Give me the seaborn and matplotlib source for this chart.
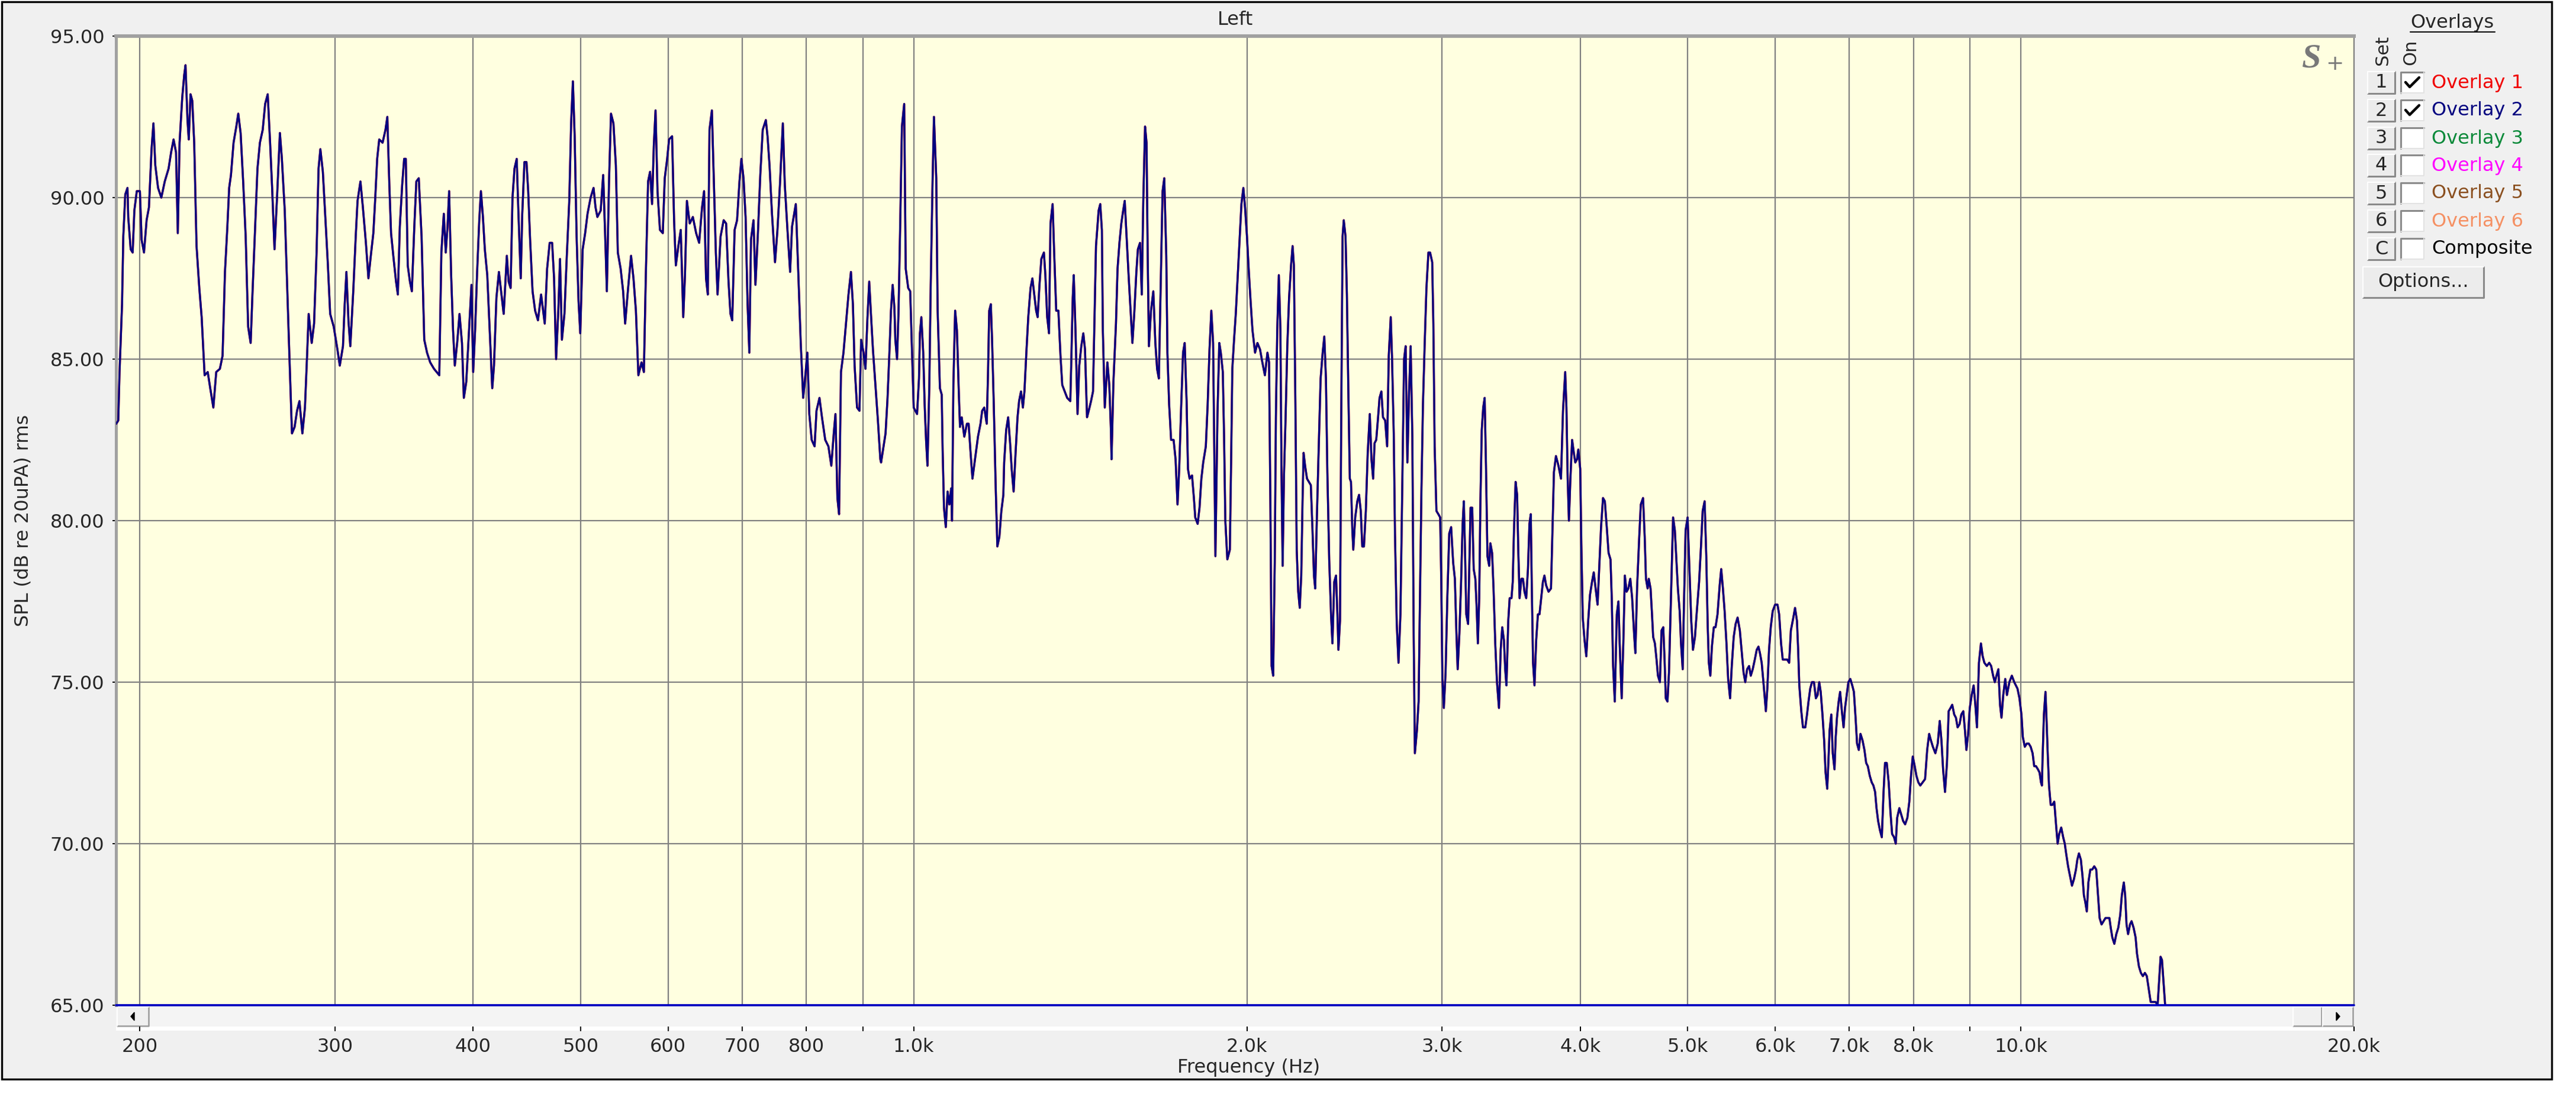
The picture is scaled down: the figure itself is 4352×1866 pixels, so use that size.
import matplotlib
matplotlib.use("Agg")
import matplotlib.pyplot as plt
import matplotlib.ticker as ticker
from matplotlib.lines import Line2D
from matplotlib.patches import Rectangle, Polygon
import pandas as pd
import seaborn as sns

# trace: frequency (Hz) and SPL (dB re 20uPa)
# 190 Hz - 930 Hz
freq_low = [
    190.4, 191.2, 191.7, 192.7, 193.2, 194.0, 194.9, 195.2, 196.2, 197.0,
    197.7, 198.7, 200.0, 200.7, 201.7, 202.8, 203.8, 204.9, 205.7, 206.5,
    207.7, 209.1, 210.6, 212.3, 213.4, 214.5, 215.6, 216.4, 217.2, 218.4,
    219.3, 219.9, 220.8, 221.4, 222.2, 223.0, 223.9, 225.0, 226.3, 227.4,
    228.8, 230.3, 231.5, 233.0, 234.4, 236.2, 237.5, 238.7, 239.9, 240.8,
    241.7, 243.0, 244.4, 245.4, 246.6, 247.9, 249.2, 250.5, 251.8, 252.8,
    254.1, 255.4, 256.7, 258.2, 259.5, 260.9, 262.2, 263.3, 264.6, 266.0,
    267.6, 268.7, 270.3, 271.7, 273.0, 274.4, 275.9, 277.3, 278.7, 280.4,
    281.9, 283.3, 284.1, 285.9, 287.3, 288.8, 290.0, 291.1, 292.6, 294.1,
    295.6, 297.1, 299.3, 301.6, 303.1, 305.1, 306.2, 307.3, 308.6, 309.8,
    311.7, 313.3, 314.5, 316.4, 318.0, 320.0, 321.7, 323.3, 325.0, 326.3,
    327.6, 329.0, 331.3, 333.3, 334.6, 336.0, 337.2, 339.0, 340.7, 342.0,
    343.4, 345.1, 346.5, 347.7, 349.1, 350.7, 352.1, 353.9, 355.4, 357.2,
    359.3, 361.3, 363.4, 365.8, 368.7, 372.8, 374.4, 376.3, 377.8, 379.2,
    380.5, 382.1, 383.6, 385.0, 386.9, 388.8, 390.8, 392.3, 394.3, 396.3,
    398.6, 400.0, 401.6, 403.3, 405.1, 406.5, 408.2, 409.8, 411.9, 414.0,
    416.2, 417.7, 419.8, 422.0,
    426.2, 429.0, 430.6, 432.4, 434.1, 435.9, 437.9, 439.4, 441.6, 443.0,
    445.0, 446.9, 448.5, 450.3, 452.6, 455.0, 457.7, 460.7, 464.2, 466.5,
    469.0, 471.4, 473.3, 475.3, 477.5, 479.2, 481.1, 483.6, 486.0, 488.5,
    490.4, 492.2, 494.0, 496.0, 498.0, 499.8, 502.3, 504.9, 507.4, 510.7,
    513.8, 515.9, 517.9, 521.5, 524.2, 526.6, 528.2, 530.6, 532.8, 535.5,
    538.2, 540.4, 543.6, 546.4, 548.7, 552.1, 555.5, 558.3, 561.1, 564.0,
    567.7, 570.5, 572.8, 575.5, 577.9, 580.3, 582.4, 584.5, 586.9, 589.9,
    593.4, 595.8, 598.8, 601.2, 605.0, 607.5, 609.7, 612.9, 616.0, 619.2,
    621.4, 623.9, 627.6, 631.7, 636.0, 640.0, 643.9, 646.6, 649.2, 651.6,
    653.9, 657.2, 660.0, 662.6, 665.0, 669.2, 673.5, 676.9, 680.3, 683.1,
    685.6, 689.0, 692.5, 696.0, 698.8, 701.9, 704.9, 707.8, 710.4, 712.9,
    716.6, 719.5, 723.2, 726.8, 730.5, 735.2, 737.8, 740.9, 744.7, 749.4,
    753.2, 757.1, 761.7, 764.8, 768.7, 773.3, 776.4, 782.5, 786.5, 790.6,
    794.6, 798.7, 801.5, 804.8, 808.8, 813.7, 816.9, 822.0, 826.3, 831.9,
    837.4, 842.5, 846.8, 849.8, 853.2, 856.2, 859.6, 864.1, 868.6, 873.1,
    877.6, 881.2, 884.3, 888.8, 893.3, 896.4, 900.9, 904.5, 908.3, 911.6,
    914.9, 918.7, 923.4, 928.2, 932.9,
]
spl_low = [
    83.0, 83.1, 84.6, 86.7, 88.8, 90.1, 90.3, 89.4, 88.4, 88.3,
    89.6, 90.2, 90.2, 88.7, 88.3, 89.3, 89.7, 91.5, 92.3, 91.0,
    90.3, 90.0, 90.5, 90.9, 91.4, 91.8, 91.4, 88.9, 91.7, 93.1,
    93.8, 94.1, 92.4, 91.8, 93.2, 93.0, 91.7, 88.5, 87.2, 86.3,
    84.5, 84.6, 84.1, 83.5, 84.6, 84.7, 85.1, 87.7, 89.1, 90.3,
    90.7, 91.7, 92.2, 92.6, 92.0, 90.5, 88.8, 86.0, 85.5, 87.1,
    89.0, 90.9, 91.7, 92.1, 92.9, 93.2, 91.7, 90.3, 88.4, 90.0,
    92.0, 91.2, 89.6, 87.2, 85.0, 82.7, 82.9, 83.4, 83.7, 82.7,
    83.5, 85.3, 86.4, 85.5, 86.1, 88.3, 90.9, 91.5, 90.8, 89.4,
    88.0, 86.4, 86.0, 85.3, 84.8, 85.4, 86.7, 87.7, 86.2, 85.4,
    87.1, 88.8, 89.9, 90.5, 89.7, 88.6, 87.5, 88.2, 88.9, 90.0,
    91.2, 91.8, 91.7, 92.1, 92.5, 90.4, 88.9, 88.1, 87.4, 87.0,
    89.1, 90.4, 91.2, 91.2, 87.9, 87.4, 87.1, 89.1, 90.5, 90.6,
    88.8, 85.6, 85.2, 84.9, 84.7, 84.5, 88.3, 89.5, 88.3, 89.1,
    90.2, 87.6, 85.9, 84.8, 85.5, 86.4, 85.5, 83.8, 84.3, 85.7,
    87.3, 84.6, 85.9, 87.7, 89.3, 90.2, 89.4, 88.4, 87.6, 85.9,
    84.1, 84.8, 86.9, 87.7,
    86.4, 88.2, 87.4, 87.2, 90.0, 90.9, 91.2, 89.6, 87.5, 89.5,
    91.1, 91.1, 90.2, 88.7, 87.1, 86.5, 86.2, 87.0, 86.1, 87.8,
    88.6, 88.6, 87.5, 85.0, 86.5, 88.1, 85.6, 86.4, 88.2, 89.9,
    92.3, 93.6, 91.9, 88.8, 86.8, 85.8, 88.4, 88.9, 89.5, 90.0,
    90.3, 89.7, 89.4, 89.6, 90.7, 88.6, 87.1, 90.5, 92.6, 92.3,
    91.0, 88.3, 87.8, 87.1, 86.1, 87.2, 88.2, 87.5, 86.5, 84.5,
    84.9, 84.6, 87.6, 90.5, 90.8, 89.8, 91.6, 92.7, 90.2, 89.0,
    88.9, 90.6, 91.2, 91.8, 91.9, 89.3, 87.9, 88.5, 89.0, 86.3,
    87.6, 89.9, 89.2, 89.4, 88.9, 88.6, 89.7, 90.2, 87.5, 87.0,
    92.1, 92.7, 90.4, 88.3, 87.0, 88.8, 89.3, 89.2, 87.4, 86.4,
    86.2, 89.0, 89.3, 90.5, 91.2, 90.6, 89.4, 86.7, 85.2, 88.7,
    89.3, 87.3, 88.9, 90.7, 92.1, 92.4, 91.9, 91.0, 89.5, 88.0,
    89.0, 90.4, 92.3, 90.4, 89.1, 87.7, 89.1, 89.8, 87.7, 85.5,
    83.8, 84.6, 85.2, 83.3, 82.5, 82.3, 83.4, 83.8, 83.2, 82.5,
    82.3, 81.7, 82.7, 83.3, 80.7, 80.2, 84.6, 85.2, 86.1, 87.0,
    87.7, 86.7, 84.8, 83.5, 83.4, 85.6, 85.2, 84.7, 86.3, 87.4,
    86.4, 85.3, 84.2, 83.1, 81.9,
]

# 930 Hz - 4.5 kHz
freq_mid = [
    934.4, 938.3, 943.1, 947.0, 950.4, 953.8, 957.2, 960.6, 962.5, 965.9,
    968.8, 972.2, 975.8, 980.4, 983.5, 988.6, 992.7, 996.8, 1000, 1007,
    1011, 1013, 1016, 1020, 1023, 1026, 1029, 1033, 1036, 1040,
    1043, 1048, 1051, 1056, 1060, 1062, 1065, 1069, 1073, 1077,
    1081, 1083, 1086, 1090, 1094, 1098, 1101, 1105, 1111, 1117,
    1121, 1125, 1130, 1134, 1139, 1143, 1149, 1153, 1158, 1164,
    1167, 1170, 1174, 1177, 1181, 1186, 1190, 1195, 1200, 1205,
    1207, 1212, 1217, 1222, 1226, 1231, 1236, 1241, 1245, 1250,
    1255, 1259, 1264, 1269, 1275, 1280, 1286, 1290, 1294, 1299,
    1304, 1311, 1315, 1320, 1325, 1329, 1335, 1339, 1345, 1351,
    1357, 1362, 1369, 1376, 1385, 1388, 1392, 1395, 1400, 1406,
    1411, 1417, 1423, 1428, 1434, 1439, 1446, 1452, 1456, 1461,
    1469, 1474, 1479, 1482, 1488, 1496, 1502, 1507, 1509, 1515,
    1523, 1528, 1534, 1540, 1546, 1551, 1558, 1564, 1570, 1576,
    1582, 1589, 1594, 1601, 1607, 1612, 1618, 1623, 1627, 1631,
    1638, 1646, 1653, 1659, 1665, 1671, 1678, 1684, 1691, 1695,
    1701, 1708, 1717, 1724, 1731, 1737, 1744, 1751, 1757, 1764,
    1769, 1775, 1784, 1791, 1796, 1805, 1812, 1819, 1826, 1836,
    1843, 1850, 1857, 1864, 1869, 1873, 1881, 1888, 1894, 1902,
    1907, 1912, 1920, 1930, 1935, 1940, 1947, 1954, 1962, 1970,
    1977, 1985, 1992, 2000, 2007, 2015, 2023, 2034,
    2044, 2055, 2065, 2076, 2087, 2094, 2100, 2105, 2112, 2119,
    2124, 2130, 2137, 2144, 2149, 2154, 2160, 2167, 2175, 2183,
    2192, 2199, 2205, 2212, 2218, 2225, 2232, 2239, 2245, 2250,
    2257, 2266, 2275, 2284, 2292, 2299, 2305, 2313, 2322, 2331,
    2341, 2349, 2357, 2364, 2373, 2382, 2389, 2398, 2407, 2414,
    2419, 2427, 2433, 2440, 2446, 2455, 2462, 2470, 2477, 2483,
    2490, 2495, 2505, 2516, 2525, 2534, 2542, 2551, 2561, 2571,
    2582, 2591, 2600, 2608, 2617, 2627, 2635, 2645, 2654, 2666,
    2677, 2686, 2697, 2704, 2714, 2721, 2731, 2741, 2752, 2763,
    2773, 2782, 2792, 2802, 2811, 2821, 2829, 2836, 2848, 2858,
    2865, 2875, 2884, 2894, 2905, 2917, 2927, 2940, 2947, 2955,
    2966, 2978, 2989, 2996, 3003, 3012, 3023, 3034, 3046, 3058,
    3071, 3082, 3092, 3100, 3111, 3122, 3132, 3140, 3148, 3156,
    3168, 3176, 3184, 3195, 3205, 3216, 3224, 3233, 3242, 3250,
    3259, 3269, 3279, 3288, 3298, 3310, 3318, 3330, 3340, 3352,
    3364, 3378, 3390, 3401, 3413, 3422, 3431, 3444, 3454, 3467,
    3476, 3485, 3497, 3508, 3517, 3526, 3539, 3551, 3562, 3575,
    3588, 3599, 3609, 3616, 3626, 3637, 3650, 3663, 3675, 3688,
    3701, 3713, 3726, 3745, 3764, 3774, 3787, 3803, 3823, 3843,
    3859, 3877, 3887, 3897, 3907, 3919, 3933, 3947, 3959, 3973,
    3984, 4000, 4009, 4021, 4036, 4051, 4067, 4082, 4099, 4114,
    4130, 4147, 4162, 4177, 4194, 4210, 4227, 4243, 4260, 4271,
    4283, 4298, 4316, 4331, 4342, 4360, 4375, 4389, 4405, 4421,
    4439, 4456, 4474, 4486, 4502, 4521, 4537,
]
spl_mid = [
    81.8, 82.2, 82.7, 83.8, 85.1, 86.5, 87.3, 86.6, 85.6, 85.0,
    86.4, 89.1, 92.2, 92.9, 87.8, 87.2, 87.1, 85.1, 83.5, 83.3,
    84.4, 85.8, 86.3, 85.2, 83.6, 82.5, 81.7, 84.2, 87.3, 90.5,
    92.5, 90.6, 86.5, 84.1, 83.9, 82.2, 80.4, 79.8, 80.9, 80.5,
    81.0, 80.0, 84.2, 86.5, 85.9, 84.1, 82.9, 83.2, 82.6, 83.0,
    83.0, 82.2, 81.3, 81.7, 82.2, 82.6, 83.0, 83.4, 83.5, 83.0,
    84.5, 86.5, 86.7, 85.6, 83.7, 81.0, 79.2, 79.5, 80.3, 80.8,
    81.8, 82.8, 83.2, 82.4, 81.6, 80.9, 82.1, 83.2, 83.7, 84.0,
    83.5, 84.0, 85.2, 86.3, 87.2, 87.5, 86.9, 86.5, 86.3, 87.3,
    88.1, 88.3, 87.6, 86.3, 85.8, 89.2, 89.8, 88.4, 86.5, 86.5,
    85.1, 84.2, 84.0, 83.8, 83.7, 85.0, 86.9, 87.6, 85.9, 83.3,
    84.8, 85.4, 85.8, 85.3, 83.2, 83.4, 83.7, 84.0, 86.0, 88.5,
    89.6, 89.8, 89.0, 85.9, 83.5, 84.9, 84.2, 82.8, 81.9, 84.3,
    86.1, 87.8, 88.6, 89.2, 89.6, 89.9, 88.6, 87.5, 86.5, 85.5,
    86.4, 87.7, 88.4, 88.6, 87.0, 89.9, 92.2, 91.7, 88.1, 85.4,
    86.5, 87.1, 85.5, 84.7, 84.4, 87.1, 90.2, 90.6, 88.2, 85.2,
    83.6, 82.5, 82.5, 81.9, 80.5, 81.6, 83.5, 85.2, 85.5, 83.7,
    81.6, 81.3, 81.4, 80.7, 80.1, 79.9, 80.4, 81.3, 81.8, 82.3,
    83.6, 85.3, 86.5, 85.5, 81.8, 78.9, 83.3, 85.5, 85.2, 84.6,
    82.6, 80.0, 78.8, 79.1, 81.8, 84.7, 85.6, 86.4, 87.6, 88.8,
    89.8, 90.3, 89.7, 88.8, 87.8, 86.8, 85.9, 85.2,
    85.5, 85.3, 84.9, 84.5, 85.2, 84.9, 80.3, 75.5, 75.2, 78.7,
    83.2, 85.9, 87.6, 85.9, 81.4, 78.6, 81.4, 83.1, 85.4, 86.9,
    87.9, 88.5, 87.9, 83.6, 79.1, 77.8, 77.3, 78.3, 80.6, 82.1,
    81.7, 81.3, 81.2, 81.1, 79.7, 78.3, 77.9, 80.1, 82.3, 84.4,
    85.2, 85.7, 84.4, 81.5, 78.8, 77.1, 76.2, 78.1, 78.3, 77.1,
    76.0, 76.9, 83.1, 88.8, 89.3, 88.8, 87.0, 83.8, 81.3, 81.2,
    79.7, 79.1, 80.1, 80.6, 80.8, 80.3, 79.2, 79.2, 80.3, 82.1,
    83.3, 81.9, 81.3, 82.4, 82.5, 83.2, 83.8, 84.0, 83.2, 83.1,
    82.3, 85.1, 86.3, 85.1, 82.7, 79.6, 76.8, 75.6, 77.1, 81.2,
    85.0, 85.4, 81.8, 84.0, 85.4, 82.6, 76.4, 72.8, 73.5, 74.4,
    77.2, 81.0, 83.6, 85.4, 87.2, 88.3, 88.3, 88.0, 86.1, 82.3,
    80.3, 80.2, 80.1, 78.1, 75.1, 74.2, 75.3, 77.6, 79.6, 79.8,
    78.7, 78.2, 76.5, 75.4, 76.5, 78.1, 79.9, 80.6, 79.0, 77.1,
    76.8, 78.6, 80.4, 80.4, 78.5, 78.2, 77.4, 76.2, 77.6, 80.6,
    82.8, 83.5, 83.8, 81.7, 78.9, 78.6, 79.3, 79.0, 77.9, 76.2,
    75.0, 74.2, 76.0, 76.7, 76.3, 75.4, 74.9, 76.9, 77.6, 77.6,
    78.1, 79.7, 81.2, 80.8, 79.0, 77.6, 78.2, 78.2, 77.8, 77.6,
    78.5, 79.9, 80.2, 78.1, 75.6, 74.9, 76.3, 77.1, 77.1, 77.6,
    78.1, 78.3, 78.0, 77.8, 77.9, 79.5, 81.5, 82.0, 81.7, 81.3,
    83.4, 84.6, 83.5, 81.3, 80.0, 81.3, 82.5, 82.1, 81.8, 81.9,
    82.2, 81.6, 79.3, 77.0, 76.3, 75.8, 76.9, 77.7, 78.1, 78.4,
    77.9, 77.4, 78.6, 79.8, 80.7, 80.6, 79.8, 79.0, 78.8, 77.6,
    75.5, 74.4, 77.1, 77.5, 76.2, 74.5, 76.2, 78.3, 77.8, 77.9,
    78.2, 77.6, 76.5, 75.9, 77.9, 79.4, 80.5,
]

# 4.5 kHz - 13.5 kHz (the trace leaves the bottom of the window after that)
freq_high = [
    4558, 4574, 4586, 4602, 4613, 4630, 4644, 4655, 4672, 4688,
    4702, 4721, 4737, 4754, 4767, 4779, 4796, 4811, 4823, 4840,
    4852, 4870, 4884, 4901, 4919, 4933, 4950, 4963, 4980, 5001,
    5021, 5039, 5057, 5078, 5098, 5122, 5142, 5160, 5181, 5199,
    5215, 5227, 5243, 5260, 5281, 5300, 5322, 5346, 5363, 5382,
    5401, 5422, 5441, 5463, 5482, 5504, 5526, 5549, 5575, 5595,
    5618, 5638, 5660, 5683, 5703, 5726, 5751, 5774, 5795, 5813,
    5834, 5855, 5885, 5903, 5924, 5945, 5969, 5999, 6029, 6050,
    6074, 6095, 6126, 6152, 6177, 6199, 6231, 6253, 6278, 6294,
    6309, 6335, 6357, 6388, 6411, 6431, 6454, 6477, 6504, 6530,
    6553, 6576, 6596, 6620, 6643, 6663, 6686, 6702, 6719, 6743,
    6763, 6788, 6805, 6823, 6847, 6868, 6893, 6917, 6938, 6962,
    6987, 7015, 7043, 7067, 7092, 7114, 7140, 7165, 7195, 7224,
    7250, 7275, 7305, 7334, 7360, 7386, 7408, 7433, 7463, 7490,
    7517, 7540, 7567, 7598, 7625, 7652, 7683, 7710, 7733, 7768,
    7799, 7830, 7862, 7899, 7931, 7959, 7988, 8020, 8049, 8081,
    8114, 8154, 8195, 8231, 8265, 8295, 8329, 8372, 8414, 8449,
    8479, 8508, 8542, 8577, 8607, 8641, 8671, 8707, 8738, 8769,
    8805, 8837, 8873, 8904, 8931, 8963, 8994, 9030, 9066, 9098,
    9129, 9167, 9205, 9238, 9271, 9318, 9365, 9403, 9441, 9474,
    9507, 9545, 9578, 9607, 9642, 9682, 9716, 9766, 9816, 9865,
    9932, 9973, 10014, 10043, 10084, 10126, 10167, 10208, 10249, 10283,
    10321, 10364, 10399, 10429, 10450, 10463, 10493, 10527, 10549, 10579,
    10605, 10643, 10678, 10721, 10766, 10797, 10833, 10878, 10922, 10958,
    10989, 11034, 11079, 11124, 11169, 11216, 11248, 11286, 11332, 11370,
    11403, 11435, 11472, 11510, 11557, 11603, 11651, 11699, 11748, 11782,
    11830, 11879, 11927, 11976, 12024, 12058, 12097, 12148, 12198, 12249,
    12299, 12339, 12390, 12425, 12460, 12501, 12551, 12592, 12644, 12697,
    12734, 12786, 12839, 12892, 12945, 12997, 13050, 13103, 13156, 13238,
    13293, 13337, 13375, 13414, 13458, 13502, 13545,
]
spl_high = [
    80.7, 79.5, 78.2, 77.9, 78.2, 77.9, 77.1, 76.4, 76.2, 75.7,
    75.2, 75.0, 76.6, 76.7, 75.7, 74.5, 74.4, 75.3, 76.7, 78.7,
    80.1, 79.7, 78.9, 77.9, 77.2, 76.2, 75.4, 77.4, 79.7, 80.1,
    78.4, 76.9, 76.0, 76.4, 77.2, 78.1, 79.2, 80.3, 80.6, 78.9,
    76.7, 75.6, 75.2, 76.1, 76.7, 76.7, 77.1, 78.0, 78.5, 77.9,
    77.2, 76.2, 75.1, 74.5, 75.5, 76.4, 76.8, 77.0, 76.6, 76.0,
    75.3, 75.0, 75.4, 75.5, 75.2, 75.4, 75.7, 76.0, 76.1, 75.9,
    75.6, 75.0, 74.1, 74.8, 76.0, 76.7, 77.2, 77.4, 77.4, 77.1,
    76.2, 75.7, 75.7, 75.7, 75.6, 76.6, 77.0, 77.3, 76.9, 76.0,
    74.9, 74.1, 73.6, 73.6, 74.0, 74.4, 74.8, 75.0, 75.0, 74.5,
    74.6, 75.0, 74.7, 74.0, 73.2, 72.2, 71.7, 72.5, 73.5, 74.0,
    72.8, 72.3, 73.3, 73.9, 74.4, 74.7, 74.1, 73.6, 74.2, 74.6,
    75.0, 75.1, 74.9, 74.7, 73.9, 73.1, 72.9, 73.4, 73.2, 72.9,
    72.5, 72.4, 72.1, 71.9, 71.8, 71.6, 71.1, 70.7, 70.4, 70.2,
    71.6, 72.5, 72.5, 71.9, 71.0, 70.3, 70.2, 70.0, 70.8, 71.1,
    70.9, 70.7, 70.6, 70.8, 71.3, 72.1, 72.7, 72.4, 72.1, 71.9,
    71.8, 71.9, 72.0, 72.9, 73.4, 73.2, 73.0, 72.8, 73.1, 73.8,
    73.2, 72.3, 71.6, 72.5, 74.1, 74.2, 74.3, 74.0, 73.9, 73.6,
    73.7, 74.0, 74.1, 73.5, 72.9, 73.4, 74.2, 74.6, 74.9, 74.3,
    73.6, 75.6, 76.2, 75.8, 75.6, 75.5, 75.6, 75.5, 75.2, 75.0,
    75.2, 75.4, 74.3, 73.9, 74.6, 75.1, 74.6, 75.0, 75.2, 75.0,
    74.8, 74.5, 74.0, 73.3, 73.0, 73.1, 73.1, 73.0, 72.8, 72.4,
    72.4, 72.3, 72.2, 71.9, 71.8, 72.6, 74.0, 74.7, 73.9, 72.7,
    71.8, 71.2, 71.2, 71.3, 70.5, 70.0, 70.3, 70.5, 70.2, 70.0,
    69.7, 69.3, 69.0, 68.7, 68.9, 69.2, 69.5, 69.7, 69.5, 69.0,
    68.4, 68.2, 67.9, 68.8, 69.2, 69.2, 69.3, 69.2, 68.3, 67.7,
    67.5, 67.6, 67.7, 67.7, 67.7, 67.4, 67.1, 66.9, 67.2, 67.4,
    67.8, 68.4, 68.8, 68.4, 67.5, 67.2, 67.5, 67.6, 67.4, 67.1,
    66.6, 66.2, 66.0, 65.9, 66.0, 65.9, 65.5, 65.1, 65.1, 65.1,
    65.0, 65.8, 66.5, 66.4, 65.7, 65.0, 63.5,
]

assert len(freq_low) == len(spl_low)
assert len(freq_mid) == len(spl_mid)
assert len(freq_high) == len(spl_high)

freq_hz = freq_low + freq_mid + freq_high
overlay2_db = spl_low + spl_mid + spl_high
# overlay 1 (red) sits right underneath overlay 2, same readings
overlay1_db = list(overlay2_db)

y_ticks = [65, 70, 75, 80, 85, 90, 95]
x_ticks = [200, 300, 400, 500, 600, 700, 800, 900, 1000, 2000, 3000, 4000,
           5000, 6000, 7000, 8000, 9000, 10000, 20000]
x_tick_labels = ["200", "300", "400", "500", "600", "700", "800", "", "1.0k",
                 "2.0k", "3.0k", "4.0k", "5.0k", "6.0k", "7.0k", "8.0k", "",
                 "10.0k", "20.0k"]

set_keys = ["1", "2", "3", "4", "5", "6", "C"]
overlay_names = ["Overlay 1", "Overlay 2", "Overlay 3", "Overlay 4",
                 "Overlay 5", "Overlay 6", "Composite"]
overlay_colors = ["#f00000", "#000080", "#0a8a3a", "#ff00ff", "#8b5020",
                  "#f59063", "#000000"]
overlay_on = [True, True, False, False, False, False, False]

# canvas in pixels
W, H = 4352, 1866


def fx(x):
    return x / W


def fy(y):
    return 1 - y / H


def box(x0, y0, x1, y1, **kw):
    # rectangle given by pixel corners (top-left origin)
    return Rectangle((fx(x0), fy(y1)), fx(x1) - fx(x0), fy(y0) - fy(y1),
                     transform=fig.transFigure, **kw)


def seg(pts, **kw):
    return Line2D([fx(p[0]) for p in pts], [fy(p[1]) for p in pts],
                  transform=fig.transFigure, **kw)


sns.set_style("white")
plt.rcParams["font.family"] = ["DejaVu Sans"]
plt.rcParams["font.size"] = 23

fig = plt.figure(figsize=(W / 100, H / 100), dpi=100, facecolor="white")

# window panel
fig.add_artist(box(3, 3, 4311, 1824, facecolor="#f0f0f0", edgecolor="black",
                   lw=2.4, zorder=-3))

ax = fig.add_axes([fx(196), fy(1699), fx(3977) - fx(196), fy(61) - fy(1699)])
ax.set_facecolor("#ffffe0")
ax.set_xscale("log")

df = pd.DataFrame({
    "freq": freq_hz + freq_hz,
    "spl": overlay1_db + overlay2_db,
    "overlay": ["Overlay 1"] * len(freq_hz) + ["Overlay 2"] * len(freq_hz),
})
sns.lineplot(data=df, x="freq", y="spl", hue="overlay",
             hue_order=["Overlay 1", "Overlay 2"],
             palette={"Overlay 1": overlay_colors[0], "Overlay 2": overlay_colors[1]},
             estimator=None, sort=False, linewidth=2.4, legend=False, ax=ax,
             zorder=3)
ax.lines[0].set_linewidth(2.5)

ax.set_xlim(190.3, 20000)
ax.set_ylim(65, 95)
ax.xaxis.set_major_locator(ticker.FixedLocator(x_ticks))
ax.xaxis.set_major_formatter(ticker.FixedFormatter(x_tick_labels))
ax.xaxis.set_minor_locator(ticker.NullLocator())
ax.yaxis.set_major_locator(ticker.FixedLocator(y_ticks))
ax.yaxis.set_major_formatter(ticker.FormatStrFormatter("%.2f"))
ax.grid(True, color="#808080", lw=1.6)
ax.set_axisbelow(True)

ax.spines["top"].set_color("#a0a0a0")
ax.spines["top"].set_linewidth(4.3)
ax.spines["left"].set_color("#a0a0a0")
ax.spines["left"].set_linewidth(3.6)
ax.spines["right"].set_color("#808080")
ax.spines["right"].set_linewidth(1.6)
ax.spines["bottom"].set_visible(False)
# ticks sit under the scroll bar
ax.spines["bottom"].set_position(("outward", 26))
ax.axhline(65, color="#0000c0", lw=2.6, zorder=4, clip_on=False)

ax.tick_params(axis="x", bottom=True, direction="out", length=5.8, width=1.4,
               color="black", pad=8, labelsize=23)
ax.tick_params(axis="y", left=True, direction="out", length=4.3, width=1.4,
               color="black", pad=10, labelsize=23)

ax.set_title("Left", y=1 + (61 - 34) / 1638, va="center", pad=0, fontsize=23)
ax.set_xlabel("Frequency (Hz)", fontsize=23, va="center")
ax.xaxis.set_label_coords((2110 - 196) / 3781, -(1804 - 1699) / 1638)
ax.set_ylabel("SPL (dB re 20uPA) rms", fontsize=23, va="center")
ax.yaxis.set_label_coords((39 - 196) / 3781, 0.5)

# S+ badge
fig.text(fx(3905), fy(99), "S", family="Liberation Serif", style="italic",
         weight="bold", color="#787878", fontsize=42, ha="center", va="center")
fig.text(fx(3944), fy(108), "+", color="#787878", fontsize=26,
         ha="center", va="center")

# scroll bar below the plot
fig.add_artist(box(196, 1701, 3977, 1735, facecolor="#f4f4f4", edgecolor="none", zorder=-2))
fig.add_artist(box(196, 1735, 3977, 1742, facecolor="white", edgecolor="none", zorder=-2))
for x0, x1 in [(198, 251), (3874, 3922), (3924, 3975)]:
    fig.add_artist(box(x0, 1702, x1, 1734, facecolor="#f0f0f0", edgecolor="none", zorder=-1))
    fig.add_artist(seg([(x0, 1734), (x1, 1734), (x1, 1702)], color="#9a9a9a", lw=1.8, zorder=-1))
    fig.add_artist(seg([(x0, 1734), (x0, 1702), (x1, 1702)], color="white", lw=1.4, zorder=-1))
fig.add_artist(Polygon([(fx(221), fy(1718)), (fx(227), fy(1711)), (fx(227), fy(1725))],
                       closed=True, transform=fig.transFigure, color="black", zorder=-1))
fig.add_artist(Polygon([(fx(3953), fy(1718)), (fx(3947), fy(1711)), (fx(3947), fy(1725))],
                       closed=True, transform=fig.transFigure, color="black", zorder=-1))

# overlay panel on the right
fig.text(fx(4143), fy(38), "Overlays", ha="center", va="center", fontsize=23)
fig.add_artist(seg([(4072, 54), (4215, 54)], color="black", lw=1.5))
fig.text(fx(4026), fy(85), "Set", rotation=90, ha="center", va="center", fontsize=22)
fig.text(fx(4073), fy(88), "On", rotation=90, ha="center", va="center", fontsize=22)

row_y = [140, 187, 234, 280, 327, 374, 421]
for key, name, color, on, cy in zip(set_keys, overlay_names, overlay_colors, overlay_on, row_y):
    fig.add_artist(box(4000, cy - 19, 4046, cy + 18, facecolor="#ececec",
                       edgecolor="none"))
    fig.add_artist(seg([(4000, cy + 18), (4046, cy + 18), (4046, cy - 19)],
                       color="#8a8a8a", lw=2.2))
    fig.add_artist(seg([(4000, cy + 18), (4000, cy - 19), (4046, cy - 19)],
                       color="white", lw=1.4))
    fig.text(fx(4023), fy(cy), key, ha="center", va="center", fontsize=23)
    fig.add_artist(box(4056, cy - 18, 4095, cy + 17, facecolor="white",
                       edgecolor="none"))
    fig.add_artist(seg([(4056, cy + 17), (4056, cy - 18), (4095, cy - 18)],
                       color="#8a8a8a", lw=2.2))
    fig.add_artist(seg([(4056, cy + 17), (4095, cy + 17), (4095, cy - 18)],
                       color="#e2e2e2", lw=1.4))
    if on:
        fig.add_artist(seg([(4064, cy - 1), (4071, cy + 7), (4087, cy - 9)],
                           color="black", lw=3.2))
    fig.text(fx(4108), fy(cy), name, color=color, ha="left", va="center",
             fontsize=23)

fig.add_artist(box(3992, 451, 4196, 503, facecolor="#ececec", edgecolor="none"))
fig.add_artist(seg([(3992, 503), (4196, 503), (4196, 451)], color="#8a8a8a", lw=2.2))
fig.add_artist(seg([(3992, 503), (3992, 451), (4196, 451)], color="white", lw=1.4))
fig.text(fx(4094), fy(477), "Options...", ha="center", va="center", fontsize=23)

fig.savefig("out.png", dpi=100, facecolor="white")
